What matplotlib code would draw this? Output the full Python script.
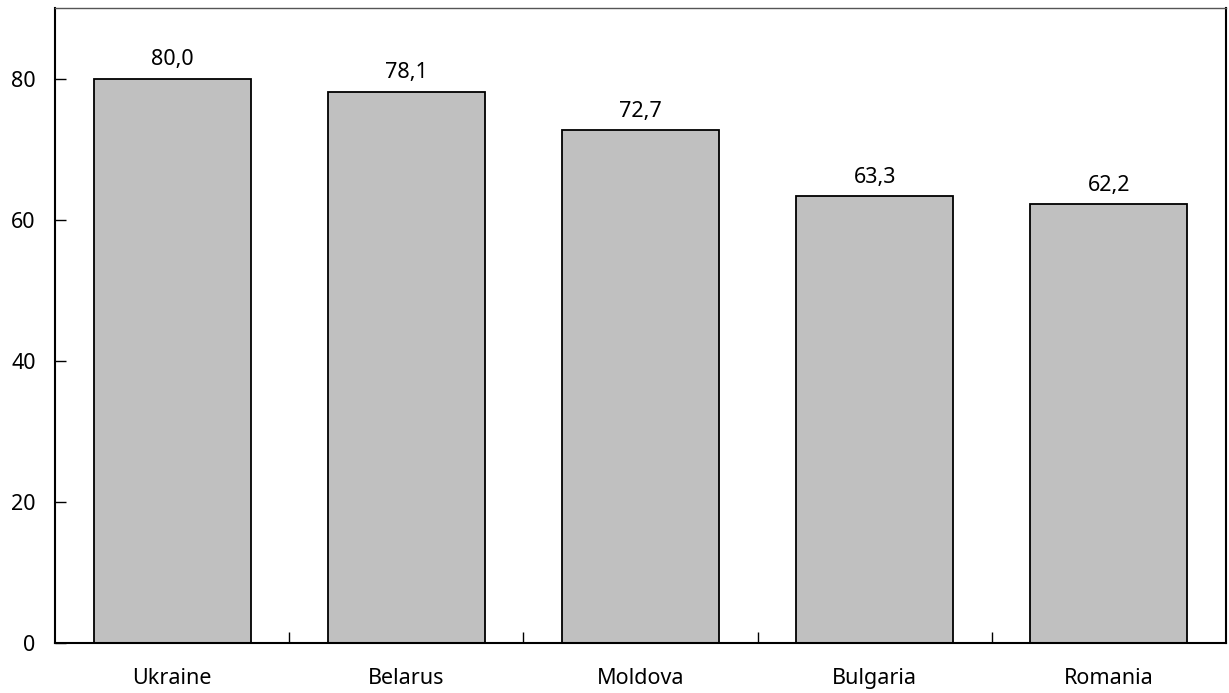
import matplotlib
matplotlib.use("Agg")
import matplotlib.pyplot as plt
import matplotlib.transforms as mtransforms

countries = ["Ukraine", "Belarus", "Moldova", "Bulgaria", "Romania"]
values = [80.0, 78.1, 72.7, 63.3, 62.2]
y_ticks = [0, 20, 40, 60, 80]

plt.rcParams["font.family"] = ["Noto Sans", "DejaVu Sans"]

W, H = 1229, 693
fig = plt.figure(figsize=(W / 100, H / 100), dpi=100)
ax = fig.add_axes([55 / W, (H - 643) / H, (1226 - 55) / W, (643 - 8) / H])

x = list(range(len(countries)))
bars = ax.bar(x, values, width=0.67, color="#c0c0c0", edgecolor="black", linewidth=1.3)

for xi, v in zip(x, values):
    ax.text(xi, v + 1.2, f"{v:.1f}".replace(".", ","), ha="center", va="bottom", fontsize=15.5)

ax.set_xlim(-0.5, len(countries) - 0.5)
ax.set_ylim(0, 90)
ax.set_yticks(y_ticks)
ax.set_yticklabels([str(t) for t in y_ticks], fontsize=15.5)

# nudge the zero label down a little, below the baseline
zero_label = ax.get_yticklabels()[0]
zero_label.set_transform(zero_label.get_transform()
                         + mtransforms.ScaledTranslation(0, -6 / 100, fig.dpi_scale_trans))

# category labels centered under bars, tick marks on category boundaries
ax.set_xticks([i + 0.5 for i in range(len(countries) - 1)])
ax.set_xticklabels([])
ax.set_xticks(x, minor=True)
ax.set_xticklabels(countries, minor=True, fontsize=15.5)
ax.tick_params(axis="x", which="minor", length=0, pad=18)
ax.tick_params(axis="x", which="major", direction="in", length=8, width=1)
ax.tick_params(axis="y", direction="in", length=8, width=1, pad=14)

for side in ["left", "bottom", "right"]:
    ax.spines[side].set_linewidth(1.5)
ax.spines["top"].set_linewidth(1.0)
ax.spines["top"].set_color("#555555")

fig.savefig("out.png", dpi=100)
